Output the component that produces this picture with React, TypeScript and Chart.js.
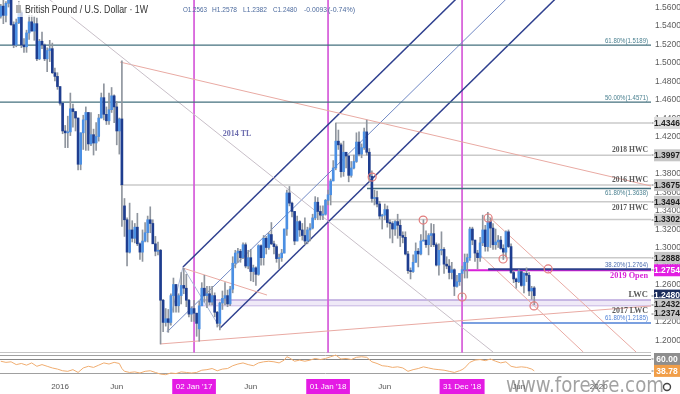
import React, { useEffect, useRef } from 'react';
import { Chart, registerables } from 'chart.js';

Chart.register(...registerables);

// ---------- axes (x = week index, 0 = week of 04 Jan 2016) ----------
const X_MIN = -23.3;
const X_MAX = 229.3;
const PRICE_MIN = 1.16;
const PRICE_MAX = 1.5676;
const MAIN_PANE_BOTTOM = 1.1865;
const PRICE_TICKS = [1.20, 1.22, 1.24, 1.26, 1.28, 1.30, 1.32, 1.34, 1.36, 1.38, 1.40, 1.42, 1.44, 1.46, 1.48, 1.50, 1.52, 1.54, 1.56];
const RSI_MIN = 27.86;
const RSI_MAX = 701.07;
const RSI_UPPER = 60;
const RSI_LOWER = 35;

// ---------- weekly candles GBP/USD (week -23 = 27 Jul 2015 ... week 184 = 15 Jul 2019) ----------
const FIRST_WEEK = -23;
const OPEN = [
  1.5500,1.5610,1.5510,1.5640,1.5700,1.5410,1.5190,1.5430,1.5540,1.5190,1.5170,1.5320,1.5440,1.5340,1.5420,1.5040,1.5230,1.5190,1.5040,1.5130,1.5150,1.4890,1.4850,
  1.4740,1.4560,1.4260,1.4240,1.4250,1.4500,1.4470,1.4400,1.3900,1.4240,1.4380,1.4460,1.4120,1.4220,1.4130,1.4200,1.4400,1.4620,1.4440,1.4370,1.4490,1.4640,1.4520,1.4260,1.4390,1.3450,1.3300,1.2950,1.3190,1.3100,1.3220,1.3040,1.2950,1.3070,1.3160,1.3300,1.3260,1.3040,1.2960,1.2970,1.2430,1.2190,1.2230,1.2190,1.2480,1.2600,1.2370,1.2480,1.2590,1.2560,1.2430,1.2280,
  1.2340,1.2290,1.2120,1.2370,1.2560,1.2480,1.2500,1.2410,1.2480,1.2300,1.2180,1.2400,1.2450,1.2480,1.2390,1.2550,1.2830,1.2940,1.2960,1.2890,1.3030,1.2800,1.2890,1.2740,1.2780,1.2710,1.3020,1.2890,1.3100,1.3000,1.3140,1.3040,1.3010,1.2880,1.2890,1.2940,1.3200,1.3590,1.3480,1.3390,1.3070,1.3280,1.3190,1.3130,1.3070,1.3190,1.3210,1.3320,1.3490,1.3390,1.3350,1.3360,
  1.3510,1.3570,1.3720,1.3860,1.4150,1.4110,1.3820,1.4030,1.3990,1.3780,1.3860,1.3930,1.4140,1.4010,1.4080,1.4250,1.4030,1.3770,1.3530,1.3540,1.3470,1.3340,1.3350,1.3410,1.3270,1.3260,1.3200,1.3280,1.3240,1.3130,1.3110,1.2930,1.2750,1.2740,1.2840,1.2960,1.2930,1.3070,1.3080,1.3030,1.3130,1.3150,1.3030,1.2810,1.2970,1.2980,1.2820,1.2800,1.2730,1.2760,1.2580,1.2630,
  1.2720,1.2760,1.2840,1.2890,1.3200,1.3080,1.2940,1.2890,1.3050,1.3190,1.3010,1.3280,1.3210,1.3030,1.3060,1.3080,1.2990,1.2950,1.3170,1.3010,1.2730,1.2660,1.2630,1.2740,1.2590,1.2720,1.2700,1.2530,1.2563,
];
const HIGH = [
  1.5630,1.5690,1.5660,1.5820,1.5800,1.5440,1.5470,1.5660,1.5560,1.5260,1.5350,1.5510,1.5510,1.5500,1.5480,1.5250,1.5330,1.5200,1.5160,1.5240,1.5210,1.4940,1.4890,
  1.4740,1.4560,1.4320,1.4420,1.4670,1.4550,1.4470,1.4400,1.4240,1.4430,1.4520,1.4460,1.4460,1.4280,1.4350,1.4440,1.4670,1.4770,1.4520,1.4670,1.4730,1.4650,1.4580,1.4400,1.5018,1.3530,1.3320,1.3480,1.3290,1.3260,1.3370,1.3050,1.3190,1.3270,1.3340,1.3440,1.3300,1.3120,1.3060,1.2980,1.2440,1.2340,1.2330,1.2500,1.2670,1.2600,1.2500,1.2730,1.2775,1.2710,1.2440,1.2360,
  1.2430,1.2290,1.2420,1.2620,1.2700,1.2580,1.2580,1.2580,1.2510,1.2310,1.2410,1.2530,1.2620,1.2540,1.2580,1.2900,1.2970,1.2990,1.2980,1.3050,1.3050,1.2970,1.2980,1.2810,1.2790,1.3030,1.3030,1.3130,1.3120,1.3160,1.3270,1.3070,1.3030,1.2930,1.2980,1.3200,1.3620,1.3660,1.3490,1.3390,1.3340,1.3290,1.3260,1.3320,1.3220,1.3260,1.3360,1.3550,1.3540,1.3450,1.3450,1.3520,
  1.3620,1.3740,1.3940,1.4346,1.4270,1.4130,1.4150,1.4030,1.3990,1.3930,1.4000,1.4240,1.4250,1.4120,1.4290,1.4377,1.4070,1.3830,1.3620,1.3610,1.3500,1.3360,1.3470,1.3450,1.3300,1.3280,1.3290,1.3360,1.3300,1.3170,1.3170,1.2960,1.2780,1.2920,1.3050,1.2990,1.3140,1.3300,1.3180,1.3150,1.3260,1.3250,1.3050,1.3040,1.3170,1.3000,1.2900,1.2870,1.2840,1.2770,1.2700,1.2720,
  1.2800,1.2930,1.2930,1.3220,1.3220,1.3080,1.2970,1.3110,1.3350,1.3240,1.3380,1.3320,1.3260,1.3200,1.3130,1.3120,1.3030,1.3180,1.3190,1.3040,1.2750,1.2670,1.2760,1.2740,1.2730,1.2780,1.2730,1.2580,1.2578,
];
const LOW = [
  1.5480,1.5420,1.5440,1.5600,1.5400,1.5160,1.5170,1.5420,1.5160,1.5110,1.5110,1.5250,1.5340,1.5240,1.5020,1.5030,1.5150,1.5020,1.4900,1.5010,1.4880,1.4800,1.4710,
  1.4540,1.4230,1.4080,1.4080,1.4210,1.4300,1.4260,1.3840,1.3840,1.4060,1.4050,1.4050,1.4100,1.4000,1.4050,1.4150,1.4400,1.4380,1.4330,1.4330,1.4460,1.4350,1.4110,1.4010,1.3229,1.3120,1.2800,1.2940,1.3060,1.3050,1.3020,1.2870,1.2850,1.3060,1.3060,1.3160,1.3060,1.2910,1.2920,1.1957,1.2090,1.2150,1.2083,1.2160,1.2300,1.2300,1.2300,1.2390,1.2500,1.2360,1.2250,1.2200,
  1.2200,1.2040,1.1986,1.2370,1.2410,1.2350,1.2380,1.2380,1.2250,1.2140,1.2109,1.2330,1.2380,1.2360,1.2370,1.2510,1.2780,1.2840,1.2840,1.2880,1.2780,1.2770,1.2640,1.2630,1.2590,1.2700,1.2810,1.2810,1.2930,1.2980,1.3030,1.2930,1.2840,1.2770,1.2850,1.2940,1.3130,1.3450,1.3330,1.3030,1.3070,1.3120,1.3080,1.3030,1.3040,1.3070,1.3200,1.3300,1.3300,1.3300,1.3300,1.3350,
  1.3460,1.3460,1.3720,1.3840,1.4060,1.3760,1.3770,1.3860,1.3710,1.3760,1.3850,1.3920,1.3990,1.3970,1.4060,1.4000,1.3710,1.3490,1.3460,1.3440,1.3310,1.3200,1.3300,1.3220,1.3100,1.3050,1.3130,1.3100,1.3010,1.3050,1.2920,1.2720,1.2660,1.2730,1.2840,1.2790,1.2920,1.3070,1.3000,1.2920,1.3010,1.3010,1.2800,1.2700,1.2920,1.2720,1.2770,1.2660,1.2660,1.2480,1.2570,1.2590,
  1.2465,1.2670,1.2670,1.2860,1.3030,1.2850,1.2770,1.2850,1.3020,1.2960,1.2960,1.3000,1.2980,1.2980,1.3000,1.2980,1.2870,1.2900,1.3000,1.2720,1.2620,1.2560,1.2620,1.2580,1.2510,1.2630,1.2480,1.2440,1.2382,
];
const CLOSE = [
  1.5610,1.5510,1.5640,1.5700,1.5410,1.5190,1.5430,1.5540,1.5190,1.5170,1.5320,1.5440,1.5340,1.5420,1.5040,1.5230,1.5190,1.5040,1.5130,1.5150,1.4890,1.4850,1.4740,
  1.4560,1.4260,1.4240,1.4250,1.4500,1.4470,1.4400,1.3900,1.4240,1.4380,1.4460,1.4120,1.4220,1.4130,1.4200,1.4400,1.4620,1.4440,1.4370,1.4490,1.4640,1.4520,1.4260,1.4390,1.3679,1.3300,1.2950,1.3190,1.3100,1.3220,1.3040,1.2950,1.3070,1.3160,1.3300,1.3260,1.3040,1.2960,1.2970,1.2430,1.2190,1.2230,1.2190,1.2480,1.2600,1.2370,1.2480,1.2590,1.2560,1.2430,1.2280,1.2340,
  1.2290,1.2180,1.2370,1.2560,1.2480,1.2500,1.2410,1.2480,1.2300,1.2180,1.2400,1.2450,1.2480,1.2390,1.2550,1.2830,1.2940,1.2960,1.2890,1.3030,1.2800,1.2890,1.2740,1.2780,1.2710,1.3020,1.2890,1.3100,1.3000,1.3140,1.3040,1.3010,1.2880,1.2890,1.2940,1.3200,1.3590,1.3480,1.3390,1.3070,1.3280,1.3190,1.3130,1.3070,1.3190,1.3210,1.3320,1.3490,1.3390,1.3350,1.3360,1.3510,
  1.3570,1.3720,1.3860,1.4150,1.4110,1.3820,1.4030,1.3990,1.3780,1.3860,1.3930,1.4140,1.4010,1.4080,1.4250,1.4030,1.3770,1.3530,1.3540,1.3470,1.3340,1.3350,1.3410,1.3270,1.3260,1.3200,1.3280,1.3240,1.3130,1.3110,1.2930,1.2750,1.2740,1.2840,1.2960,1.2930,1.3070,1.3080,1.3030,1.3130,1.3150,1.3030,1.2810,1.2970,1.2980,1.2820,1.2800,1.2730,1.2760,1.2580,1.2630,1.2720,
  1.2760,1.2840,1.2890,1.3200,1.3080,1.2940,1.2890,1.3050,1.3190,1.3010,1.3280,1.3210,1.3030,1.3060,1.3080,1.2990,1.2950,1.3170,1.3010,1.2730,1.2660,1.2630,1.2740,1.2590,1.2720,1.2700,1.2530,1.2560,1.2480,
];

// ---------- RSI pane ----------
const RSI_WEEKS = [
  -23,-21,-19,-17,-15,-13,-11,-9,-7,-5,-3,-1,
  1,3,5,7,9,11,13,15,17,19,21,23,24,
  25,27,29,31,33,35,37,39,41,43,45,47,49,51,53,55,57,59,61,63,65,67,69,71,73,75,77,79,81,83,85,87,88,
  89,91,93,95,97,99,101,103,105,107,109,111,113,115,117,119,121,123,125,127,129,131,133,135,137,139,141,143,145,147,149,151,153,155,156,
  157,159,161,163,165,167,169,171,173,175,177,179,181,183,184,
];
const RSI_VALUES = [
  56,54,55,50,52,49,53,47,50,47,44,42,
  39,38,41,36,44,47,45,49,53,51,54,52,43,
  38,36,37,35,38,39,36,33,32,35,34,37,36,35,36,40,41,43,39,42,43,48,51,53,50,48,53,55,56,55,53,58,64,
  62,56,58,56,58,61,59,61,64,67,60,61,59,63,64,63,55,52,48,47,45,46,44,38,41,43,46,44,42,41,40,38,36,39,41,
  44,54,58,59,57,60,56,53,55,47,45,46,45,42,38.78,
];

// ---------- horizontal levels ----------
const LEVEL_PRICES = [1.5189, 1.4571, 1.4346, 1.3997, 1.3675, 1.3638, 1.3494, 1.3302, 1.2888, 1.2764, 1.2754, 1.2185];
const LEVEL_FROM_WEEKS = [X_MIN, X_MIN, 107, 104.8, 23.3, 119.1, 104.8, 104.8, 162.2, 166.1, 156, 156];
const LEVEL_KINDS = ['teal', 'teal', 'gray', 'gray', 'gray', 'teal', 'gray', 'gray', 'gray', 'navy', 'magenta', 'blue'];
const LEVEL_TEXTS = ['61.80%(1.5189)', '50.00%(1.4571)', '', '2018 HWC', '2016 HWC', '61.80%(1.3638)', '2017 HWC', '', '', '38.20%(1.2764)', '2019 Open', '61.80%(1.2185)'];
const LEVEL_TEXT_BELOW = [false, false, false, false, false, true, true, false, false, false, true, false];

// low-weekly-close band
const BAND_PRICES = [1.2432, 1.2374];
const BAND_TEXTS = ['LWC', '2017 LWC'];
const BAND_FROM_WEEK = 54.3;

// ---------- trend lines [week, price] pairs ----------
const PITCHFORK_UPPER_W = [47.7, 160];
const PITCHFORK_UPPER_P = [1.2789, 1.5860];
const PITCHFORK_MEDIAN_W = [41.5, 178];
const PITCHFORK_MEDIAN_P = [1.2086, 1.5820];
const PITCHFORK_LOWER_W = [62.1, 196];
const PITCHFORK_LOWER_P = [1.2130, 1.5792];
const PITCHFORK_HANDLE_W = [41.5, 47.7, 62.1];
const PITCHFORK_HANDLE_P = [1.2086, 1.2789, 1.2130];
const TL2014_W = [-10, 168.0];
const TL2014_P = [1.5811, 1.1870];
const BREXIT_TL_W = [23.3, 229.3];
const BREXIT_TL_P = [1.5005, 1.3665];
const LOW_TL_W = [38.8, 229.3];
const LOW_TL_P = [1.1957, 1.2368];
const TL2017_W = [47.7, 80.3];
const TL2017_P = [1.2778, 1.2486];
const CHANNEL_UPPER_W = [166.1, 223.5];
const CHANNEL_UPPER_P = [1.3340, 1.1870];
const CHANNEL_LOWER_W = [162.2, 203.0];
const CHANNEL_LOWER_P = [1.2940, 1.1870];
const TL_LABEL = '2014 TL';
const TL_LABEL_WEEK = 68.7;
const TL_LABEL_PRICE = 1.4227;

// pivot circles
const CIRCLE_WEEKS = [121.1, 140.9, 156.0, 166.1, 171.9, 189.4, 183.9];
const CIRCLE_PRICES = [1.3762, 1.3297, 1.2465, 1.3319, 1.2876, 1.2768, 1.2368];

// event markers
const EVENT_WEEKS = [52, 104, 156];

// x-axis labels
const X_TICK_WEEKS = [0, 22, 52, 74, 104, 126, 156, 178, 209];
const X_TICK_LABELS = ['2016', 'Jun', "02 Jan '17", 'Jun', "01 Jan '18", 'Jun', "31 Dec '18", 'Jun', '2020'];
const X_TICK_MARKED = [false, false, true, false, true, false, true, false, false];

// price-axis tags
const AXIS_TAG_PRICES = [1.4346, 1.3997, 1.3675, 1.3494, 1.3302, 1.2888, 1.2754, 1.2480, 1.2432, 1.2374];
const AXIS_TAG_KINDS = ['light', 'gray', 'gray', 'gray', 'gray', 'gray', 'magenta', 'navy', 'gray', 'gray'];
const RSI_TAG_VALUES = [60, 38.78];
const RSI_TAG_KINDS = ['rsiGray', 'orange'];

const TITLE = 'British Pound / U.S. Dollar · 1W';
const OHLC_TEXTS = ['O1.2563', 'H1.2578', 'L1.2382', 'C1.2480', '-0.0093', '(-0.74%)'];
const WATERMARK = 'www.forexre.com';

// ---------- styles ----------
const UP_COLOR = '#4b8fe3';
const DOWN_COLOR = '#1e3d8f';
const WICK_COLOR = '#8f959e';
const LEVEL_STYLE: any = {
  teal: { color: '#45707e', width: 1.3 },
  gray: { color: '#cacaca', width: 1.5 },
  navy: { color: '#2c3f8a', width: 2 },
  magenta: { color: '#d91fd9', width: 2 },
  blue: { color: '#4f80d6', width: 1.5 },
};
const TAG_STYLE: any = {
  light: { bg: '#dedede', fg: '#222' },
  gray: { bg: '#c6c6c6', fg: '#1d1d1d' },
  magenta: { bg: '#e21ee2', fg: '#ffffff' },
  navy: { bg: '#1b2c5c', fg: '#ffffff' },
  rsiGray: { bg: '#8e8e8e', fg: '#ffffff' },
  orange: { bg: '#f19e48', fg: '#ffffff' },
};

const AXIS_WIDTH = 29;
const TAG_MIN_GAP = 9;

const pts = (w: number[], p: number[]) => w.map((x, i) => ({ x, y: p[i] }));

const lineDs = (data: any[], color: string, width: number, extra: any = {}) => ({
  type: 'line',
  data,
  borderColor: color,
  borderWidth: width,
  pointRadius: 0,
  pointHoverRadius: 0,
  fill: false,
  tension: 0,
  xAxisID: 'x',
  yAxisID: 'y',
  order: 5,
  ...extra,
});

const overlayPlugin = {
  id: 'overlay',
  beforeDatasetsDraw(chart: any) {
    const { ctx, chartArea: a, scales } = chart;
    const y = scales.y;
    const yr = scales.yr;
    ctx.save();
    const hl = (yy: number, color: string) => {
      ctx.strokeStyle = color;
      ctx.lineWidth = 1;
      ctx.beginPath();
      ctx.moveTo(a.left, yy);
      ctx.lineTo(a.right, yy);
      ctx.stroke();
    };
    const yb = Math.round(y.getPixelForValue(MAIN_PANE_BOTTOM)) + 0.5;
    hl(yb, '#c4c4c4');
    hl(yb + 3, '#a0a0a0');
    hl(Math.round(yr.getPixelForValue(RSI_UPPER)) + 0.5, '#878787');
    hl(Math.round(yr.getPixelForValue(RSI_LOWER)) + 0.5, '#a0a0a0');
    ctx.restore();
  },
  afterDraw(chart: any) {
    const { ctx, chartArea: a, scales } = chart;
    const x = scales.x;
    const y = scales.y;
    const yr = scales.yr;
    ctx.save();

    // price tick labels
    ctx.font = '8.5px "Liberation Sans"';
    ctx.fillStyle = '#5c5c5c';
    ctx.textAlign = 'left';
    ctx.textBaseline = 'middle';
    PRICE_TICKS.forEach((p) => ctx.fillText(p.toFixed(4), a.right + 4, y.getPixelForValue(p) + 0.5));

    // level texts
    const drawLevelText = (text: string, price: number, below: boolean, kind: string) => {
      if (!text) return;
      const yy = y.getPixelForValue(price);
      let font = '6.5px "Liberation Sans"';
      let color = '#4a8090';
      let maxW = 43;
      if (kind === 'gray' || kind === 'band') {
        font = 'bold 8.5px "Liberation Serif"';
        color = '#5a5a5a';
        maxW = 36;
      } else if (kind === 'magenta') {
        font = 'bold 8.5px "Liberation Serif"';
        color = '#d91fd9';
        maxW = 38;
      } else if (kind === 'navy') {
        color = '#4f6fb0';
      } else if (kind === 'blue') {
        color = '#4f80d6';
      }
      ctx.font = font;
      ctx.fillStyle = color;
      ctx.textAlign = 'right';
      ctx.textBaseline = below ? 'top' : 'bottom';
      ctx.fillText(text, a.right - 3, below ? yy + 1.5 : yy - 1, maxW);
    };
    LEVEL_PRICES.forEach((p, i) => drawLevelText(LEVEL_TEXTS[i], p, LEVEL_TEXT_BELOW[i], LEVEL_KINDS[i]));
    BAND_PRICES.forEach((p, i) => drawLevelText(BAND_TEXTS[i], p, i === 1, 'band'));

    // 2014 TL label
    ctx.font = 'bold 8px "Liberation Serif"';
    ctx.fillStyle = '#6c6cae';
    ctx.textAlign = 'center';
    ctx.textBaseline = 'middle';
    ctx.fillText(TL_LABEL, x.getPixelForValue(TL_LABEL_WEEK), y.getPixelForValue(TL_LABEL_PRICE));

    // axis tags
    const tag = (text: string, yc: number, kind: string) => {
      const st = TAG_STYLE[kind];
      ctx.fillStyle = '#777';
      ctx.fillRect(a.right + 0.5, Math.round(yc) - 0.5, 2, 1);
      ctx.fillStyle = st.bg;
      ctx.fillRect(a.right + 3, yc - 6, 680 - a.right - 3, 12);
      ctx.fillStyle = st.fg;
      ctx.font = 'bold 8.5px "Liberation Sans"';
      ctx.textAlign = 'center';
      ctx.textBaseline = 'middle';
      ctx.fillText(text, (a.right + 683) / 2, yc + 0.5, 26);
    };
    let last = -100;
    AXIS_TAG_PRICES.forEach((p, i) => {
      let yc = y.getPixelForValue(p);
      if (yc - last < TAG_MIN_GAP) yc = last + TAG_MIN_GAP;
      last = yc;
      tag(p.toFixed(4), yc, AXIS_TAG_KINDS[i]);
    });
    RSI_TAG_VALUES.forEach((v, i) => tag(v.toFixed(2), yr.getPixelForValue(v), RSI_TAG_KINDS[i]));

    // x-axis labels
    const ly = a.bottom + 10;
    ctx.font = '8px "Liberation Sans"';
    ctx.textBaseline = 'middle';
    ctx.textAlign = 'center';
    X_TICK_WEEKS.forEach((w, i) => {
      const px = x.getPixelForValue(w);
      const t = X_TICK_LABELS[i];
      if (X_TICK_MARKED[i]) {
        const tw = ctx.measureText(t).width + 7;
        ctx.fillStyle = '#e41be4';
        ctx.fillRect(px - tw / 2, a.bottom + 2, tw, 15);
        ctx.fillStyle = '#ffffff';
      } else {
        ctx.fillStyle = '#555';
      }
      ctx.fillText(t, px, ly);
    });

    // title + OHLC
    ctx.fillStyle = 'rgba(255,255,255,0.72)';
    ctx.fillRect(14, 2, 138, 15);
    ctx.fillStyle = '#b0b0b0';
    ctx.fillRect(16, 5, 5, 8);
    ctx.font = '11px "Liberation Sans"';
    ctx.fillStyle = '#333';
    ctx.textAlign = 'left';
    ctx.textBaseline = 'middle';
    ctx.fillText(TITLE, 25, 9.5, 123);
    ctx.font = '8px "Liberation Sans"';
    ctx.fillStyle = '#4c6a9e';
    const ohlcX = [183, 212, 243, 273, 304, 328];
    const ohlcW = [24, 25, 24, 24, 23, 27];
    OHLC_TEXTS.forEach((t, i) => ctx.fillText(t, ohlcX[i], 9.5, ohlcW[i]));

    // watermark + gear
    ctx.font = '21px "DejaVu Sans"';
    ctx.fillStyle = 'rgba(100,100,100,0.6)';
    ctx.textAlign = 'left';
    ctx.textBaseline = 'alphabetic';
    ctx.fillText(WATERMARK, 506, 392, 158);
    ctx.strokeStyle = '#444';
    ctx.lineWidth = 1.4;
    ctx.beginPath();
    ctx.arc(667, 387, 3.5, 0, Math.PI * 2);
    ctx.stroke();
    ctx.restore();
  },
};

export default function App() {
  const ref = useRef<HTMLCanvasElement>(null);
  useEffect(() => {
    document.body.style.margin = '0';
    const canvas = ref.current;
    if (!canvas) return;
    const weeks = OPEN.map((_, i) => FIRST_WEEK + i);
    const colors = OPEN.map((o, i) => (CLOSE[i] >= o ? UP_COLOR : DOWN_COLOR));

    const datasets: any[] = [
      {
        type: 'line',
        data: pts(CIRCLE_WEEKS, CIRCLE_PRICES),
        showLine: false,
        pointRadius: 4,
        pointStyle: 'circle',
        pointBackgroundColor: 'rgba(0,0,0,0)',
        pointBorderColor: '#e27c7c',
        pointBorderWidth: 1.2,
        xAxisID: 'x',
        yAxisID: 'y',
        order: 0,
      },
      {
        type: 'bar',
        data: weeks.map((w, i) => ({ x: w, y: [OPEN[i], CLOSE[i]] })),
        backgroundColor: colors,
        barThickness: 2,
        grouped: false,
        minBarLength: 1,
        borderWidth: 0,
        xAxisID: 'x',
        yAxisID: 'y',
        order: 1,
      },
      {
        type: 'bar',
        data: weeks.map((w, i) => ({ x: w, y: [LOW[i], HIGH[i]] })),
        backgroundColor: WICK_COLOR,
        barThickness: 1,
        grouped: false,
        borderWidth: 0,
        xAxisID: 'x',
        yAxisID: 'y',
        order: 2,
      },
      {
        type: 'line',
        data: pts(RSI_WEEKS, RSI_VALUES),
        borderColor: '#f0ad70',
        borderWidth: 1,
        pointRadius: 0,
        tension: 0,
        fill: false,
        xAxisID: 'x',
        yAxisID: 'yr',
        order: 3,
      },
    ];

    // low weekly close band (filled)
    datasets.push(lineDs(pts([BAND_FROM_WEEK, X_MAX], [BAND_PRICES[0], BAND_PRICES[0]]), '#b9a4dc', 1.5, { fill: '+1', backgroundColor: '#efe9f7', order: 7 }));
    datasets.push(lineDs(pts([BAND_FROM_WEEK, X_MAX], [BAND_PRICES[1], BAND_PRICES[1]]), '#b9a4dc', 1.5, { order: 7 }));

    LEVEL_PRICES.forEach((p, i) => {
      const st = LEVEL_STYLE[LEVEL_KINDS[i]];
      datasets.push(lineDs(pts([LEVEL_FROM_WEEKS[i], X_MAX], [p, p]), st.color, st.width, { order: LEVEL_KINDS[i] === 'gray' ? 8 : 4 }));
    });

    EVENT_WEEKS.forEach((w) => {
      datasets.push(lineDs(pts([w, w], [PRICE_MAX, MAIN_PANE_BOTTOM]), '#d65fda', 1, { order: 6 }));
    });

    datasets.push(lineDs(pts(TL2014_W, TL2014_P), '#c8bfc8', 1));
    datasets.push(lineDs(pts(BREXIT_TL_W, BREXIT_TL_P), '#e9aaa3', 1));
    datasets.push(lineDs(pts(LOW_TL_W, LOW_TL_P), '#e9aaa3', 1));
    datasets.push(lineDs(pts(TL2017_W, TL2017_P), '#e9aaa3', 1));
    datasets.push(lineDs(pts(CHANNEL_UPPER_W, CHANNEL_UPPER_P), '#e9aaa3', 1));
    datasets.push(lineDs(pts(CHANNEL_LOWER_W, CHANNEL_LOWER_P), '#e9aaa3', 1));
    datasets.push(lineDs(pts(PITCHFORK_HANDLE_W, PITCHFORK_HANDLE_P), '#a9b6d6', 1));
    datasets.push(lineDs(pts(PITCHFORK_UPPER_W, PITCHFORK_UPPER_P), '#2f408f', 1.5));
    datasets.push(lineDs(pts(PITCHFORK_MEDIAN_W, PITCHFORK_MEDIAN_P), '#7088c4', 1));
    datasets.push(lineDs(pts(PITCHFORK_LOWER_W, PITCHFORK_LOWER_P), '#2f408f', 1.5));

    const chart = new Chart(canvas, {
      type: 'bar',
      data: { datasets },
      options: {
        responsive: false,
        animation: false,
        events: [],
        layout: { padding: { left: 0, right: AXIS_WIDTH, top: 0, bottom: 17 }, autoPadding: false },
        plugins: { legend: { display: false }, tooltip: { enabled: false } },
        scales: {
          x: {
            type: 'linear',
            min: X_MIN,
            max: X_MAX,
            display: false,
            offset: false,
          },
          y: {
            type: 'linear',
            position: 'right',
            min: PRICE_MIN,
            max: PRICE_MAX,
            display: false,
          },
          yr: {
            type: 'linear',
            position: 'right',
            min: RSI_MIN,
            max: RSI_MAX,
            display: false,
          },
        },
      } as any,
      plugins: [overlayPlugin],
    } as any);
    return () => chart.destroy();
  }, []);
  return (
    <div style={{ width: 680, height: 394 }}>
      <canvas ref={ref} width={680} height={394} style={{ display: 'block' }} />
    </div>
  );
}
